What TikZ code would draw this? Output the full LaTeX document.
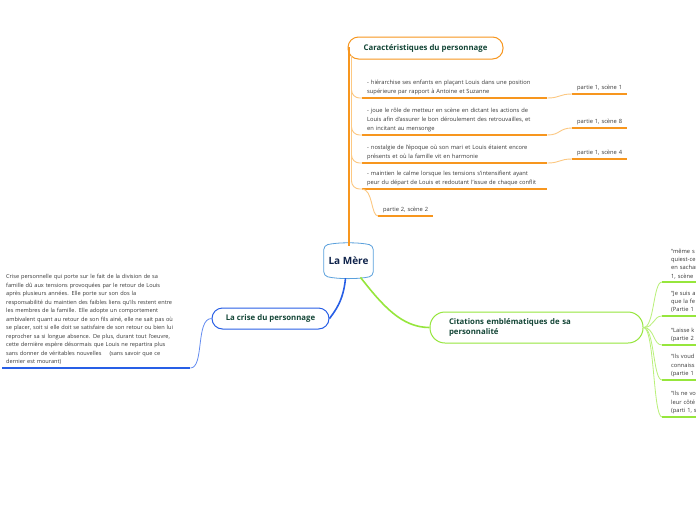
\documentclass[tikz,border=0pt]{standalone}
\usepackage{fontspec}
\setmainfont{Open Sans}
\usepackage{tikz}
\usetikzlibrary{positioning, calc}
\definecolor{myorange}{RGB}{247,150,30}
\definecolor{lightorange}{RGB}{252,200,130}
\definecolor{myblue}{RGB}{40,95,230}
\definecolor{lightblue}{RGB}{100,140,240}
\definecolor{mygreen}{RGB}{150,230,60}
\definecolor{lightgreen}{RGB}{185,240,120}
\definecolor{meresky}{RGB}{90,160,220}
\definecolor{merenavy}{RGB}{15,35,75}
\definecolor{titlegreen}{RGB}{20,70,55}
\definecolor{bodygray}{RGB}{55,55,55}
\tikzset{
  topic/.style={rectangle, rounded corners=10.5pt, fill=white, line width=1pt,
    font=\fontsize{7.8}{9.5}\selectfont\bfseries, text=titlegreen, inner sep=0pt},
  leaf/.style={anchor=south west, align=left, inner xsep=5pt, inner ysep=3pt,
    font=\fontsize{5.75}{9}\selectfont, text=bodygray},
  crisetxt/.style={anchor=south west, align=left, inner xsep=4pt, inner ysep=3pt,
    font=\fontsize{5.6}{8.5}\selectfont, text=bodygray},
  quote/.style={anchor=south west, align=left, inner xsep=9pt, inner ysep=3pt,
    text width=60pt, font=\fontsize{5.75}{8.3}\selectfont, text=bodygray},
  mainorange/.style={line width=2pt, color=myorange},
  mainblue/.style={line width=1.6pt, color=myblue},
  maingreen/.style={line width=1.6pt, color=mygreen},
  thinorange/.style={line width=0.9pt, color=lightorange},
  thinblue/.style={line width=0.8pt, color=lightblue},
  thingreen/.style={line width=0.8pt, color=lightgreen},
  uorange/.style={line width=1.6pt, color=myorange},
  ublue/.style={line width=1.6pt, color=myblue},
  ugreen/.style={line width=1.6pt, color=mygreen}
}

\begin{document}
\begin{tikzpicture}[x=1pt, y=-1pt]
  \useasboundingbox[fill=white] (0,0) rectangle (696,520);

  % Central topic
  \node[minimum width=49pt, minimum height=30pt, inner sep=0pt] (mere) at (348.5,260.7) {};
  \draw[meresky, fill=white, line width=0.8pt, rounded corners=4pt]
    (mere.north west) .. controls ($(mere.north west)+(14,-3.3)$) and ($(mere.north east)+(-14,-3.3)$) .. (mere.north east)
    -- (mere.south east) .. controls ($(mere.south east)+(-14,3.3)$) and ($(mere.south west)+(14,3.3)$) .. (mere.south west) -- cycle;
  \node[font=\fontsize{10}{12}\selectfont\bfseries, text=merenavy] at (mere) {La Mère};

  % Main topics
  \node[topic, draw=myorange, minimum width=155pt, minimum height=22pt] (carac) at (425.5,48) {Caractéristiques du personnage};
  \node[topic, draw=myblue, minimum width=117pt, minimum height=21pt] (crise) at (270.5,318.5) {La crise du personnage};
  \node[topic, draw=mygreen, rounded corners=15pt, minimum height=31pt, text width=175pt, align=left,
    inner xsep=19pt] (citations) at (536.5,327.5) {Citations emblématiques de sa\\personnalité};

  % Main branches
  \draw[mainorange] (mere.north) |- (carac.west);
  \draw[mainblue] ($(mere.south)+(-3,2.3)$) .. controls +(-2,22) and +(6,-8) .. (crise.east);
  \draw[maingreen] ($(mere.south)+(12,1.5)$) .. controls +(22,28) and +(-28,0) .. (citations.west);

  % Caracteristiques
  \node[leaf, text width=175pt] (i1) at (362,98) {- hiérarchise ses enfants en plaçant Louis dans une position\\supérieure par rapport à Antoine et Suzanne};
  \node[leaf, text width=175pt] (i2) at (362,135) {- joue le rôle de metteur en scène en dictant les actions de\\Louis afin d'assurer le bon déroulement des retrouvailles, et\\en incitant au mensonge};
  \node[leaf, text width=175pt] (i3) at (362,163) {- nostalgie de l'époque où son mari et Louis étaient encore\\présents et où la famille vit en harmonie};
  \node[leaf, text width=175pt] (i4) at (362,189) {- maintien le calme lorsque les tensions s'intensifient ayant\\peur du départ de Louis et redoutant l'issue de chaque conflit};
  \node[leaf, text width=45pt] (p11) at (572,94) {partie 1, scène 1};
  \node[leaf, text width=45pt] (p18) at (572,128) {partie 1, scène 8};
  \node[leaf, text width=45pt] (p14) at (572,159) {partie 1, scène 4};
  \node[leaf, text width=45pt] (p22) at (378,216) {partie 2, scène 2};
  \coordinate (cstem) at ($(carac.west)+(4,8)$);
  \foreach \n in {i1,i2,i3,i4,p11,p18,p14,p22}
    \draw[uorange] (\n.south west) -- (\n.south east);
  \foreach \n in {i1,i2,i3,i4}
    \draw[thinorange, rounded corners=8pt] (cstem) |- (\n.south west);
  \draw[thinorange] (i1.south east) .. controls +(13,0) and +(-13,0) .. (p11.south west);
  \draw[thinorange] (i2.south east) .. controls +(13,0) and +(-13,0) .. (p18.south west);
  \draw[thinorange] (i3.south east) .. controls +(13,0) and +(-13,0) .. (p14.south west);
  \draw[thinorange] (i4.south west) .. controls +(11,0) and +(-7,0) .. (p22.south west);

  % La crise
  \node[crisetxt, text width=180pt] (critext) at (2,368) {Crise personnelle qui porte sur le fait de la division de sa\\famille dû aux tensions provoquées par le retour de Louis\\après plusieurs années. Elle porte sur son dos la\\responsabilité du maintien des faibles liens qu'ils restent entre\\les membres de la famille. Elle adopte un comportement\\ambivalent quant au retour de son fils ainé, elle ne sait pas où\\se placer, soit si elle doit se satisfaire de son retour ou bien lui\\reprocher sa si longue absence. De plus, durant tout l'oeuvre,\\cette dernière espère désormais que Louis ne repartira plus\\sans donner de véritables nouvelles\hspace{8pt}(sans savoir que ce\\dernier est mourant)};
  \draw[ublue] (critext.south west) -- (critext.south east);
  \draw[thinblue] (crise.west) .. controls +(-16,0) and +(14,0) .. (critext.south east);

  % Citations
  \node[quote] (q1) at (662,282) {“même s\\quiest-ce\\en sachan\\1, scène};
  \node[quote] (q2) at (662,316) {“Je suis a\\que la fe\\(Partie 1};
  \node[quote] (q3) at (662,345) {“Laisse k\\(partie 2};
  \node[quote] (q4) at (662,380) {“Ils voud\\connaiss\\(partie 1};
  \node[quote] (q5) at (662,417) {“Ils ne vo\\leur côté\\(parti 1, s};
  \foreach \n in {q1,q2,q3,q4,q5} {
    \draw[ugreen] (\n.south west) -- (\n.south east);
    \draw[thingreen] (citations.east) .. controls +(11,0) and +(-9,0) .. (\n.south west);
  }
\end{tikzpicture}
\end{document}
